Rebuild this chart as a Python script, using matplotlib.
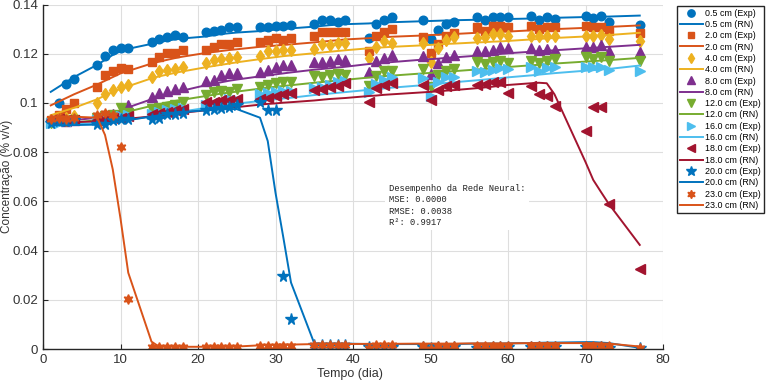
import matplotlib
matplotlib.use('Agg')
import matplotlib.pyplot as plt

# dias de amostragem
dias = [1, 2, 3, 4, 7, 8, 9, 10, 11, 14, 15, 16, 17, 18, 21, 22, 23, 24, 25,
        28, 29, 30, 31, 32, 35, 36, 37, 38, 39, 42, 43, 44, 45,
        49, 50, 51, 52, 53, 56, 57, 58, 59, 60, 63, 64, 65, 66, 70, 71, 72, 73, 77]

exp_05 = [0.093, 0.0998, 0.1077, 0.1098, 0.1154, 0.119, 0.1215, 0.1225, 0.1225,
          0.1247, 0.126, 0.1267, 0.1276, 0.1267, 0.129, 0.1294, 0.1297, 0.131, 0.1308,
          0.1308, 0.131, 0.1314, 0.1314, 0.1317, 0.132, 0.1337, 0.1335, 0.133, 0.1335,
          0.1263, 0.132, 0.1335, 0.1348, 0.1335, 0.126, 0.1297, 0.132, 0.133,
          0.135, 0.1335, 0.1348, 0.1348, 0.135, 0.1353, 0.1337, 0.1348, 0.134,
          0.1353, 0.1344, 0.1353, 0.1327, 0.1317]
rn_05 = [0.1045, 0.1065, 0.1085, 0.1105, 0.1155, 0.1175, 0.1195, 0.121, 0.122,
         0.124, 0.1247, 0.1253, 0.1258, 0.1262, 0.127, 0.1275, 0.128, 0.1283, 0.1286,
         0.1292, 0.1295, 0.1298, 0.13, 0.1303, 0.131, 0.1313, 0.1316, 0.1318, 0.132,
         0.1323, 0.1325, 0.1327, 0.1328, 0.1332, 0.1333, 0.1334, 0.1335, 0.1336,
         0.1338, 0.1339, 0.134, 0.134, 0.1341, 0.1343, 0.1344, 0.1345, 0.1346,
         0.1349, 0.135, 0.135, 0.1351, 0.1355]

exp_2 = [0.093, 0.095, 0.0975, 0.100, 0.1065, 0.1114, 0.113, 0.1141, 0.1138,
         0.1168, 0.1186, 0.1202, 0.1202, 0.1215, 0.1215, 0.1229, 0.124, 0.124, 0.1247,
         0.1247, 0.1256, 0.1265, 0.1256, 0.1265, 0.127, 0.1287, 0.1287, 0.1287, 0.1287,
         0.1209, 0.1272, 0.1287, 0.130, 0.1267, 0.1202, 0.124, 0.1272, 0.1283,
         0.1308, 0.1294, 0.1313, 0.1313, 0.1309, 0.1313, 0.130, 0.131, 0.131,
         0.1313, 0.131, 0.131, 0.1293, 0.1283]
rn_2 = [0.099, 0.1005, 0.102, 0.1035, 0.1075, 0.109, 0.1105, 0.112, 0.113,
        0.116, 0.1168, 0.1175, 0.1182, 0.1188, 0.1203, 0.1207, 0.1211, 0.1215, 0.1218,
        0.1228, 0.123, 0.1233, 0.1236, 0.1238, 0.1246, 0.1249, 0.1252, 0.1255, 0.1258,
        0.1263, 0.1265, 0.1267, 0.1269, 0.1274, 0.1276, 0.1277, 0.1279, 0.128,
        0.1285, 0.1286, 0.1288, 0.1289, 0.129, 0.1295, 0.1297, 0.1298, 0.13,
        0.1305, 0.1306, 0.1308, 0.1309, 0.1315]

exp_4 = [0.093, 0.0935, 0.094, 0.0945, 0.100, 0.1035, 0.1053, 0.1064, 0.1073,
         0.1107, 0.113, 0.1134, 0.1138, 0.1148, 0.1164, 0.1175, 0.1179, 0.1182, 0.1188,
         0.1191, 0.1209, 0.1213, 0.1215, 0.1215, 0.122, 0.124, 0.1236, 0.1243, 0.1243,
         0.1182, 0.1229, 0.1253, 0.1245, 0.1245, 0.1168, 0.1222, 0.1256, 0.1267,
         0.1263, 0.1267, 0.1279, 0.1279, 0.1272, 0.1272, 0.127, 0.127, 0.1272,
         0.1272, 0.1272, 0.1276, 0.1259, 0.1253]
rn_4 = [0.095, 0.096, 0.097, 0.098, 0.1015, 0.103, 0.1045, 0.1057, 0.1068,
        0.110, 0.1108, 0.1115, 0.1122, 0.1128, 0.1145, 0.115, 0.1155, 0.116, 0.1165,
        0.1178, 0.1182, 0.1186, 0.119, 0.1193, 0.1202, 0.1205, 0.1208, 0.1211, 0.1214,
        0.1222, 0.1224, 0.1226, 0.1228, 0.1234, 0.1236, 0.1238, 0.124, 0.1241,
        0.1246, 0.1247, 0.1249, 0.125, 0.1252, 0.1258, 0.126, 0.1262, 0.1264,
        0.127, 0.1272, 0.1274, 0.1276, 0.1285]

exp_8 = [0.0925, 0.093, 0.0925, 0.093, 0.094, 0.095, 0.0955, 0.096, 0.0992,
         0.1023, 0.1039, 0.105, 0.1056, 0.1064, 0.1091, 0.1094, 0.1114, 0.112, 0.1123,
         0.1127, 0.1134, 0.1148, 0.1154, 0.1154, 0.1168, 0.1168, 0.1172, 0.1178, 0.1175,
         0.1127, 0.1172, 0.1182, 0.1195, 0.1191, 0.1118, 0.1161, 0.1186, 0.1195,
         0.1213, 0.1213, 0.1215, 0.1229, 0.1222, 0.1222, 0.1215, 0.1218, 0.1215,
         0.1229, 0.1226, 0.1236, 0.1209, 0.1205]
rn_8 = [0.0925, 0.0926, 0.0928, 0.093, 0.094, 0.0948, 0.0958, 0.097, 0.0982,
        0.1015, 0.1025, 0.1034, 0.1043, 0.105, 0.1072, 0.1078, 0.1084, 0.109, 0.1095,
        0.1108, 0.1112, 0.1116, 0.112, 0.1124, 0.1135, 0.1138, 0.1141, 0.1144, 0.1147,
        0.1158, 0.1161, 0.1164, 0.1166, 0.1176, 0.1178, 0.118, 0.1183, 0.1185,
        0.1192, 0.1194, 0.1196, 0.1199, 0.1202, 0.1208, 0.121, 0.1212, 0.1214,
        0.1222, 0.1224, 0.1226, 0.1228, 0.1236]

exp_12 = [0.092, 0.0925, 0.0925, 0.093, 0.094, 0.0945, 0.095, 0.0978, 0.096,
          0.0975, 0.0978, 0.0985, 0.0992, 0.1005, 0.1033, 0.1046, 0.105, 0.1046, 0.1056,
          0.1064, 0.1073, 0.1082, 0.1085, 0.1085, 0.111, 0.1104, 0.1114, 0.1118, 0.1114,
          0.1069, 0.111, 0.1131, 0.1131, 0.1136, 0.1064, 0.1114, 0.1131, 0.1136,
          0.1168, 0.1159, 0.1168, 0.1172, 0.1161, 0.1172, 0.1161, 0.1172, 0.1177,
          0.1186, 0.1177, 0.1186, 0.1172, 0.1172]
rn_12 = [0.0915, 0.0916, 0.0918, 0.092, 0.093, 0.0937, 0.0945, 0.0955, 0.0965,
         0.0988, 0.0995, 0.1002, 0.1008, 0.1013, 0.1028, 0.1033, 0.1038, 0.1042, 0.1046,
         0.1058, 0.1062, 0.1066, 0.1069, 0.1072, 0.1082, 0.1085, 0.1088, 0.1091, 0.1094,
         0.1103, 0.1106, 0.1109, 0.1111, 0.112, 0.1122, 0.1125, 0.1127, 0.1129,
         0.1136, 0.1138, 0.1141, 0.1143, 0.1146, 0.1153, 0.1155, 0.1157, 0.116,
         0.1168, 0.117, 0.1172, 0.1174, 0.1183]

exp_16 = [0.092, 0.092, 0.0925, 0.0925, 0.093, 0.0935, 0.094, 0.0945, 0.095,
          0.0955, 0.0965, 0.097, 0.0975, 0.098, 0.099, 0.0995, 0.100, 0.1015, 0.1012,
          0.1035, 0.104, 0.1045, 0.1048, 0.105, 0.1062, 0.1065, 0.1072, 0.1085, 0.109,
          0.1046, 0.1077, 0.1093, 0.1107, 0.110, 0.1028, 0.1087, 0.1107, 0.1104,
          0.1131, 0.1127, 0.1134, 0.1141, 0.1136, 0.1148, 0.1131, 0.1141, 0.1145,
          0.1148, 0.1148, 0.1148, 0.1134, 0.1131]
rn_16 = [0.0912, 0.0912, 0.0913, 0.0914, 0.0918, 0.092, 0.0923, 0.0927, 0.0932,
         0.0945, 0.095, 0.0955, 0.096, 0.0965, 0.098, 0.0985, 0.0989, 0.0993, 0.0997,
         0.1008, 0.1012, 0.1015, 0.1018, 0.1021, 0.1032, 0.1035, 0.1038, 0.1041, 0.1044,
         0.1053, 0.1056, 0.1059, 0.1062, 0.1072, 0.1075, 0.1078, 0.1081, 0.1084,
         0.1092, 0.1095, 0.1098, 0.1101, 0.1104, 0.1112, 0.1115, 0.1118, 0.1121,
         0.1131, 0.1133, 0.1136, 0.1138, 0.1152]

exp_18 = [0.093, 0.0935, 0.093, 0.093, 0.093, 0.0935, 0.094, 0.094, 0.0945,
          0.0955, 0.096, 0.0965, 0.097, 0.0975, 0.1005, 0.1005, 0.101, 0.1012, 0.1015,
          0.1015, 0.1022, 0.1028, 0.1035, 0.104, 0.1053, 0.1056, 0.1064, 0.1069, 0.108,
          0.1005, 0.106, 0.1073, 0.108, 0.1073, 0.1012, 0.1053, 0.1069, 0.1073,
          0.1073, 0.1077, 0.1087, 0.1087, 0.1042, 0.1069, 0.1037, 0.1028, 0.0988,
          0.0887, 0.0985, 0.0983, 0.0589, 0.0324]
rn_18 = [0.092, 0.092, 0.0921, 0.0922, 0.0925, 0.0927, 0.093, 0.0933, 0.0936,
         0.0945, 0.0948, 0.0952, 0.0956, 0.096, 0.097, 0.0973, 0.0977, 0.098, 0.0983,
         0.0993, 0.0996, 0.0998, 0.1001, 0.1003, 0.101, 0.1013, 0.1016, 0.1018, 0.102,
         0.1028, 0.103, 0.1033, 0.1035, 0.1043, 0.1045, 0.1047, 0.105, 0.1052,
         0.106, 0.1063, 0.1066, 0.107, 0.1073, 0.108, 0.1082, 0.108, 0.1035,
         0.076, 0.0687, 0.0638, 0.059, 0.0423]

exp_20 = [0.092, 0.0925, 0.0925, 0.093, 0.0915, 0.0915, 0.093, 0.0935, 0.0935,
          0.0935, 0.094, 0.0955, 0.0955, 0.096, 0.097, 0.0975, 0.098, 0.0985, 0.099,
          0.1005, 0.0972, 0.0972, 0.0297, 0.0121, 0.0015, 0.0018, 0.0015, 0.0016, 0.0015,
          0.0008, 0.001, 0.001, 0.001, 0.0008, 0.0005, 0.0008, 0.0008, 0.0008,
          0.0006, 0.0006, 0.0007, 0.0007, 0.0007, 0.0008, 0.0008, 0.0008, 0.0008,
          0.0008, 0.0006, 0.0008, 0.0006, 0.0004]
rn_20 = [0.091, 0.091, 0.091, 0.091, 0.0912, 0.0915, 0.092, 0.0925, 0.093,
         0.0945, 0.095, 0.0955, 0.096, 0.0963, 0.097, 0.0972, 0.0974, 0.0975, 0.0975,
         0.094, 0.0845, 0.0635, 0.0455, 0.027, 0.0023, 0.0022, 0.0022, 0.0022, 0.0022,
         0.002, 0.002, 0.002, 0.002, 0.002, 0.002, 0.002, 0.002, 0.002,
         0.0022, 0.0022, 0.0022, 0.0022, 0.0023, 0.0024, 0.0025, 0.0026, 0.0026,
         0.0028, 0.0028, 0.0026, 0.0024, 0.0005]

exp_23 = [0.0935, 0.094, 0.0935, 0.094, 0.095, 0.0958, 0.095, 0.0822, 0.0202,
          0.001, 0.001, 0.001, 0.001, 0.001, 0.001, 0.001, 0.001, 0.001, 0.001,
          0.0012, 0.0012, 0.0012, 0.0012, 0.0012, 0.0018, 0.0018, 0.0018, 0.0018, 0.0018,
          0.0004, 0.0015, 0.0015, 0.0015, 0.0012, 0.0002, 0.0012, 0.0012, 0.0012,
          0.0012, 0.0012, 0.0012, 0.0012, 0.0012, 0.0012, 0.0012, 0.0012, 0.0012,
          0.0012, 0.0012, 0.0012, 0.0012, 0.0005]
rn_23 = [0.0945, 0.0945, 0.0945, 0.0944, 0.094, 0.087, 0.073, 0.053, 0.031,
         0.003, 0.0009, 0.0009, 0.0009, 0.0009, 0.0009, 0.0009, 0.0009, 0.0009, 0.001,
         0.0015, 0.0016, 0.0017, 0.0018, 0.0018, 0.002, 0.002, 0.002, 0.002, 0.002,
         0.0021, 0.0021, 0.0021, 0.0021, 0.0022, 0.0022, 0.0022, 0.0022, 0.0022,
         0.0023, 0.0023, 0.0023, 0.0023, 0.0023, 0.0024, 0.0024, 0.0024, 0.0024,
         0.0024, 0.0024, 0.0023, 0.0022, 0.001]

profundidades = ['0.5', '2.0', '4.0', '8.0', '12.0', '16.0', '18.0', '20.0', '23.0']
experimentais = [exp_05, exp_2, exp_4, exp_8, exp_12, exp_16, exp_18, exp_20, exp_23]
preditos = [rn_05, rn_2, rn_4, rn_8, rn_12, rn_16, rn_18, rn_20, rn_23]

cores = ['#0072BD', '#D95319', '#EDB120', '#7E2F8E', '#77AC30', '#4DBEEE',
         '#A2142F', '#0072BD', '#D95319']
marcadores = ['o', 's', 'd', '^', 'v', '>', '<', '*', (6, 1, 0)]
tamanhos = [6.2, 5.2, 6.5, 6.5, 6.5, 6.5, 6.5, 8.5, 7.0]

escuro = '#262626'
fig = plt.figure(figsize=(7.68, 3.80), dpi=100)
fig.subplots_adjust(left=43 / 768, right=663 / 768, bottom=1 - 349 / 380, top=1 - 4.5 / 380)
ax = fig.add_subplot(111)

for i in range(len(profundidades)):
    ax.plot(dias, experimentais[i], linestyle='none', marker=marcadores[i],
            markersize=tamanhos[i], color=cores[i], markeredgecolor=cores[i],
            label=profundidades[i] + ' cm (Exp)')
    ax.plot(dias, preditos[i], '-', color=cores[i], linewidth=1.4,
            label=profundidades[i] + ' cm (RN)')

ax.set_xlim(0, 80)
ax.set_ylim(0, 0.14)
ax.set_xticks([0, 10, 20, 30, 40, 50, 60, 70, 80])
ax.set_yticks([0, 0.02, 0.04, 0.06, 0.08, 0.1, 0.12, 0.14])
ax.set_yticklabels(['0', '0.02', '0.04', '0.06', '0.08', '0.1', '0.12', '0.14'])
ax.grid(True, color='#dedede', linewidth=0.8)
ax.set_axisbelow(True)
for lado in ['top', 'right']:
    ax.spines[lado].set_visible(False)
for lado in ['left', 'bottom']:
    ax.spines[lado].set_color(escuro)
    ax.spines[lado].set_linewidth(1.0)
ax.tick_params(direction='in', length=3.5, color=escuro, labelcolor='#333333',
               labelsize=9.5)
for lbl in ax.get_xticklabels() + ax.get_yticklabels():
    lbl.set_family('Liberation Sans')

ax.set_xlabel('Tempo (dia)', fontsize=9, family='Liberation Sans', color='#333333')
ax.xaxis.set_label_coords(0.495, -0.055)
ax.set_ylabel('Concentração (% v/v)', fontsize=8.5, family='Liberation Sans',
              color='#333333')
ax.yaxis.set_label_coords(-0.049, 0.5)

ax.text(44.6, 0.0672, 'Desempenho da Rede Neural:\nMSE: 0.0000\nRMSE: 0.0038\nR²: 0.9917',
        family='Liberation Mono', fontsize=6.3, va='top', ha='left', linespacing=1.35,
        color='#222222', bbox=dict(facecolor='white', edgecolor='none', pad=2.5))

leg = ax.legend(loc='upper left', bbox_to_anchor=(677 / 768, 1 - 6 / 380),
                bbox_transform=fig.transFigure, prop={'family': 'Liberation Sans', 'size': 6.4},
                fancybox=False, framealpha=1, edgecolor=escuro, borderaxespad=0,
                labelspacing=0.26, handlelength=2.6, handletextpad=0.3, borderpad=0.3,
                markerscale=0.85)
leg.get_frame().set_linewidth(1.0)

fig.savefig('out.png', dpi=100)
